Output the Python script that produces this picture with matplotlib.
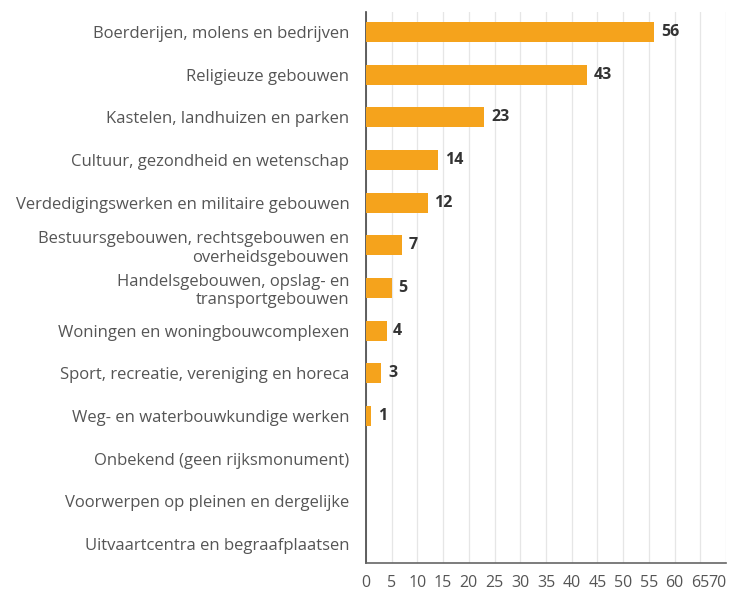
import matplotlib.pyplot as plt

# categories, top to bottom
categories = [
    "Boerderijen, molens en bedrijven",
    "Religieuze gebouwen",
    "Kastelen, landhuizen en parken",
    "Cultuur, gezondheid en wetenschap",
    "Verdedigingswerken en militaire gebouwen",
    "Bestuursgebouwen, rechtsgebouwen en\noverheidsgebouwen",
    "Handelsgebouwen, opslag- en\ntransportgebouwen",
    "Woningen en woningbouwcomplexen",
    "Sport, recreatie, vereniging en horeca",
    "Weg- en waterbouwkundige werken",
    "Onbekend (geen rijksmonument)",
    "Voorwerpen op pleinen en dergelijke",
    "Uitvaartcentra en begraafplaatsen",
]
values = [56, 43, 23, 14, 12, 7, 5, 4, 3, 1, 0, 0, 0]
xticks = list(range(0, 75, 5))

plt.rcParams['font.family'] = ['Open Sans', 'DejaVu Sans']

fig = plt.figure(figsize=(7.29, 5.93), dpi=100)
ax = fig.add_axes([0.502, 0.0506, 0.494, 0.9292])

y = list(range(len(categories)))
ax.barh(y, values, height=0.47, color="#F5A31C", zorder=3)

# waardelabels
for yi, v in zip(y, values):
    if v > 0:
        ax.text(v + 1.3, yi, str(v), va="center", ha="left",
                fontsize=11.5, fontweight="bold", color="#333333")

ax.set_xlim(0, 70)
ax.set_ylim(len(categories) - 0.55, -0.47)
ax.set_yticks(y)
ax.set_yticklabels(categories, fontsize=12, color="#555555", linespacing=1.2)
ax.set_xticks(xticks)
ax.set_xticklabels([str(t) for t in xticks], fontsize=11.5, color="#555555")
ax.get_xticklabels()[-1].set_horizontalalignment("right")

ax.tick_params(axis="both", length=0)
ax.tick_params(axis="x", pad=9)
ax.tick_params(axis="y", pad=12)

ax.grid(axis="x", color="#e6e6e6", linewidth=0.9, zorder=0)
ax.grid(axis="y", visible=False)

ax.spines["top"].set_visible(False)
ax.spines["right"].set_visible(False)
ax.spines["left"].set_color("#444444")
ax.spines["left"].set_linewidth(1.2)
ax.spines["bottom"].set_color("#666666")
ax.spines["bottom"].set_linewidth(1.2)

fig.savefig("out.png", dpi=100)
